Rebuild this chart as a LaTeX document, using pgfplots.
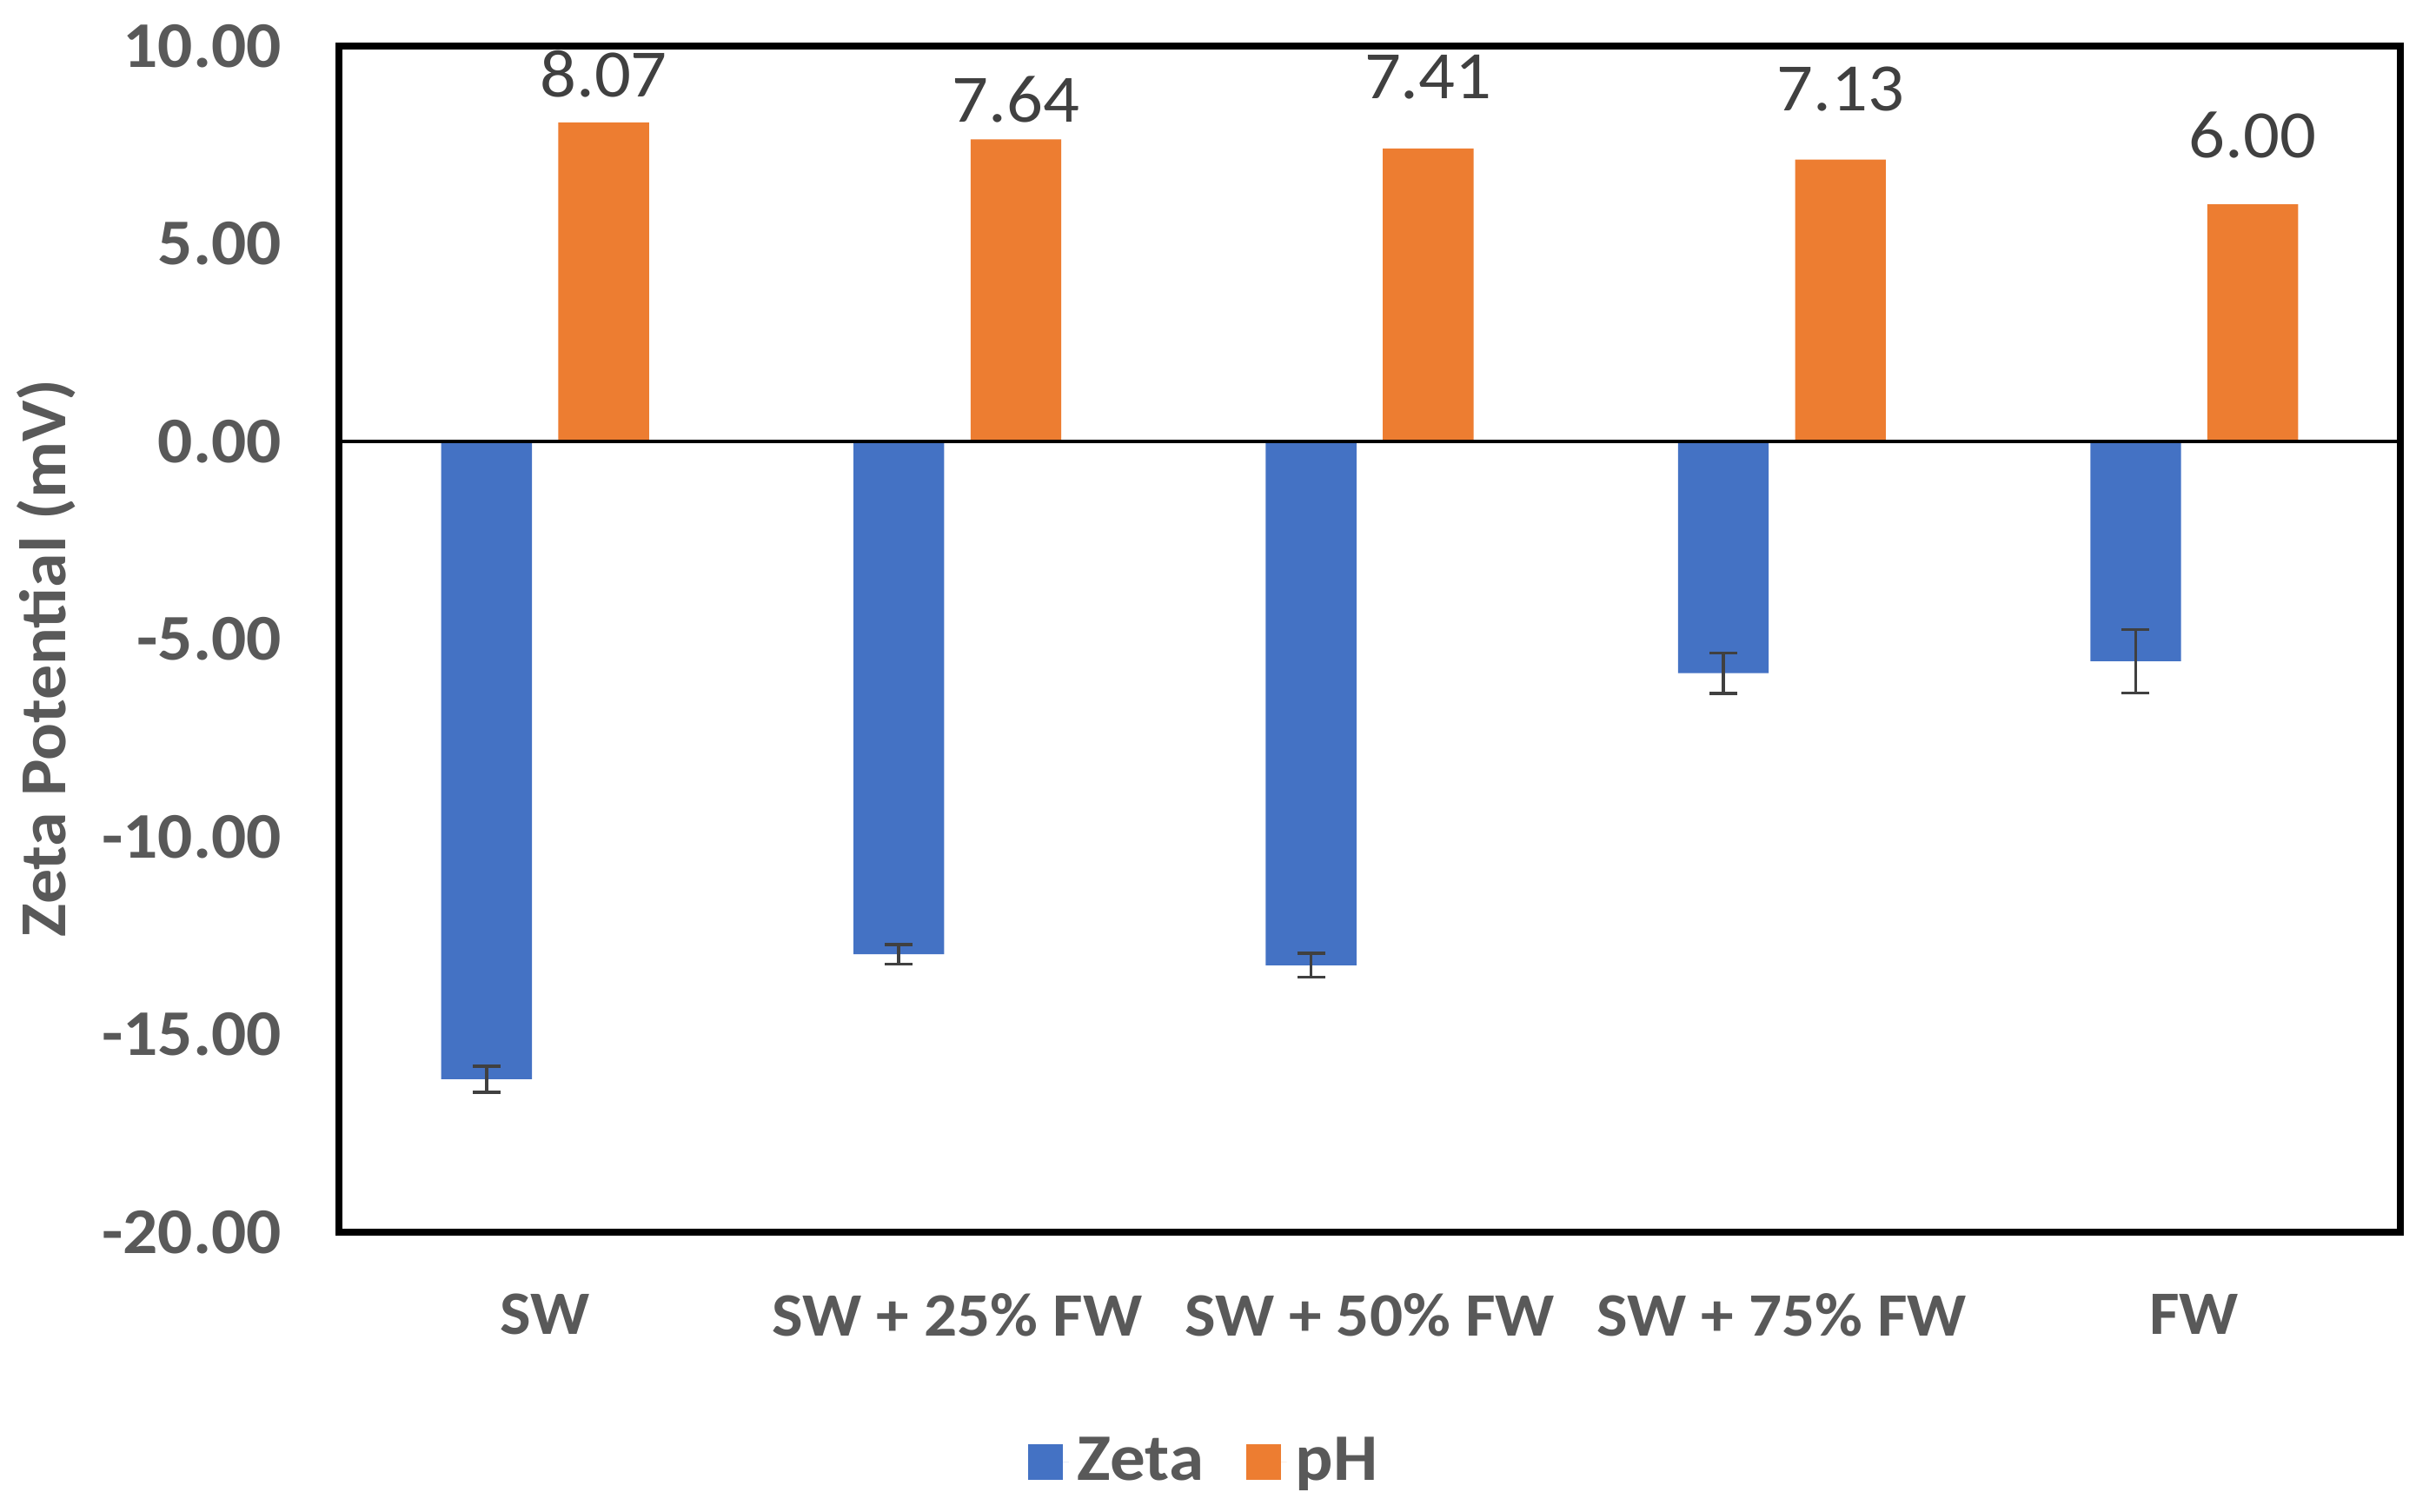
\documentclass[border=0pt]{standalone}
\usepackage{fontspec}
\setmainfont{Carlito}[FakeStretch=1.06]
\usepackage{pgfplots}
\usepackage{pgfplotstable}
\pgfplotsset{compat=1.18}
\definecolor{zblue}{HTML}{4472C4}
\definecolor{porange}{HTML}{ED7D31}
\definecolor{tgray}{HTML}{595959}
\definecolor{vgray}{HTML}{404040}
\newcommand\fytick{\fontsize{15}{18}\selectfont}
\newcommand\fxtick{\fontsize{14.2}{17}\selectfont}
\newcommand\fylab{\fontsize{15.1}{18}\selectfont}
\newcommand\fleg{\fontsize{15.3}{18}\selectfont}
\newcommand\fval{\fontsize{15.6}{18}\selectfont}

% zeta bars: x = category index - 0.142 (left bar of each pair)
\pgfplotstableread{
x y err
-0.142 -16.13 0.33
0.858 -12.97 0.25
1.858 -13.25 0.30
2.858 -5.86 0.51
3.858 -5.56 0.80
}\zetatab

% pH bars: x = category index + 0.142 (right bar of each pair)
\pgfplotstableread{
x y
0.142 8.07
1.142 7.64
2.142 7.41
3.142 7.13
4.142 6.00
}\phtab

\pgfplotstableread{
x ly val
0.142 9.30 8.07
1.142 8.64 7.64
2.142 9.22 7.41
3.142 8.91 7.13
4.142 7.74 6.00
}\labtab

\begin{document}
\begin{tikzpicture}
\useasboundingbox (-78pt,-64.2pt) rectangle (478pt,283.6pt);
\begin{axis}[
  scale only axis, width=474.4pt, height=273pt,
  xmin=-0.5, xmax=4.5, ymin=-20, ymax=10,
  axis line style={black, line width=1.5pt},
  xtick={0,1,2,3,4},
  xticklabels={SW, SW + 25\% FW, SW + 50\% FW, SW + 75\% FW, FW},
  ytick={-20,-15,-10,-5,0,5,10},
  yticklabel={\pgfmathprintnumber[fixed,fixed zerofill,precision=2,assume math mode=true]{\tick}},
  major tick length=0pt,
  yticklabel style={font=\fytick\bfseries, text=tgray, inner sep=0pt, xshift=-13pt},
  xticklabel style={font=\fxtick\bfseries, text=tgray, inner sep=0pt, yshift=-14pt},
  ylabel={Zeta Potential (mV)},
  every axis y label/.style={at={(rel axis cs:-0.142,0.484)}, rotate=90, anchor=center, font=\fylab\bfseries, text=tgray},
  legend style={at={(rel axis cs:0.4212,-0.1934)}, anchor=center, draw=none, fill=none,
    font=\fleg\bfseries, text=tgray, legend columns=2,
    /tikz/every even column/.append style={column sep=7.7pt}},
  legend image code/.code={\fill[#1] (0pt,-4.1pt) rectangle (8pt,4.1pt);
    \path (0pt,0pt) -- (9.4pt,0pt);},
  clip=false,
]
\addplot[ybar, bar width=0.22, bar shift=0, fill=zblue, draw=none,
  error bars/.cd, y dir=both, y explicit,
  error bar style={vgray, line width=0.7pt},
  error mark options={vgray, rotate=90, mark size=3.2pt, line width=0.7pt}]
  table[x=x, y=y, y error=err]{\zetatab};
\addlegendentry{Zeta}
\addplot[ybar, bar width=0.22, bar shift=0, fill=porange, draw=none]
  table[x=x, y=y]{\phtab};
\addlegendentry{pH}
\addplot[draw=none, mark=none, forget plot, point meta=explicit,
  nodes near coords={\pgfmathprintnumber[fixed,fixed zerofill,precision=2,assume math mode=true]{\pgfplotspointmeta}},
  every node near coord/.append style={font=\fval, text=vgray, anchor=center}]
  table[x=x, y=ly, meta=val]{\labtab};
\draw[black, line width=0.9pt] (axis cs:-0.5,0) -- (axis cs:4.5,0);
\end{axis}
\end{tikzpicture}
\end{document}
